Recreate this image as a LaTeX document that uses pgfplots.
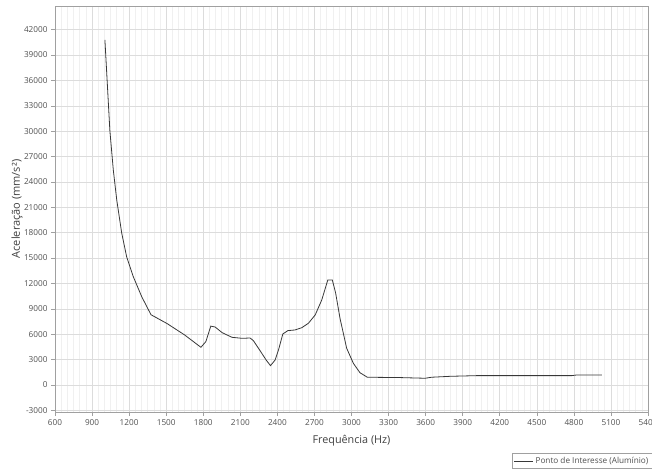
\documentclass[border=0pt]{standalone}
\usepackage{fontspec}
\setmainfont{Open Sans}
\usepackage{pgfplots}
\pgfplotsset{compat=1.18}
\definecolor{ticktxt}{HTML}{505050}
\definecolor{majgrid}{HTML}{DCDCDC}
\definecolor{mingrid}{HTML}{F0F0F0}
\definecolor{frame}{HTML}{A0A0A0}
\definecolor{curve}{HTML}{383838}
\begin{document}
\begin{tikzpicture}
\begin{axis}[
  scale only axis,
  width=593pt, height=406pt,
  xmin=600, xmax=5400,
  ymin=-3200, ymax=44800,
  xtick={600,900,...,5400},
  ytick={-3000,0,...,42000},
  scaled ticks=false,
  minor x tick num=5,
  grid=both,
  major grid style={majgrid, line width=0.6pt},
  minor grid style={mingrid, line width=0.6pt},
  minor y tick num=0,
  tick pos=left,
  tick align=outside,
  major tick length=4pt,
  minor tick length=0pt,
  tick style={frame, line width=0.6pt},
  axis line style={frame, line width=0.8pt},
  ticklabel style={font=\fontsize{8.2}{9}\selectfont, text=ticktxt},
  /pgf/number format/assume math mode=true,
  /pgf/number format/1000 sep={},
  legend style={at={(0.7707,-0.1017)}, anchor=north west, draw=frame, line width=0.5pt,
    font=\fontsize{8.2}{9}\selectfont, text=ticktxt, inner sep=1.5pt,
    legend cell align=left},
  legend image code/.code={\draw[#1] (0pt,0pt) -- (19pt,0pt);},
]
\addplot[curve, line width=0.8pt] coordinates {
(1004,40800) (1044,30100) (1072,25400) (1100,21850) (1140,17950) (1180,15150)
(1234,12790) (1302,10430) (1377,8300) (1508,7250) (1650,5900) (1781,4450)
(1821,5120) (1861,6950) (1896,6850) (1953,6180) (2033,5630) (2114,5510)
(2179,5550) (2206,5230) (2260,4050) (2309,2950) (2344,2280) (2382,2950)
(2409,4130) (2444,6020) (2485,6420) (2543,6500) (2598,6770) (2651,7290)
(2706,8270) (2759,10040) (2808,12400) (2845,12400) (2872,10830) (2907,7870)
(2961,4330) (3015,2560) (3068,1450) (3128,910) (3393,870) (3596,790)
(3649,910) (3799,1020) (4015,1100) (4784,1100) (4824,1180) (5027,1180)
};
\addlegendentry{Ponto de Interesse (Alumínio)}
\coordinate (bl) at (rel axis cs:0,0);
\coordinate (tr) at (rel axis cs:1,1);
\coordinate (ylab) at (rel axis cs:0,0.5);
\coordinate (xlab) at (rel axis cs:0.5,0);
\end{axis}
\node[rotate=90, font=\fontsize{11}{13}\selectfont, text=ticktxt!80!black] at ([xshift=-38pt]ylab) {Aceleração (mm/s²)};
\node[font=\fontsize{10.8}{13}\selectfont, text=ticktxt!80!black] at ([yshift=-28.5pt]xlab) {Frequência (Hz)};
\pgfresetboundingbox
\path ([xshift=-55pt,yshift=-56.3pt]bl) rectangle ([xshift=4pt,yshift=6pt]tr);
\end{tikzpicture}
\end{document}
